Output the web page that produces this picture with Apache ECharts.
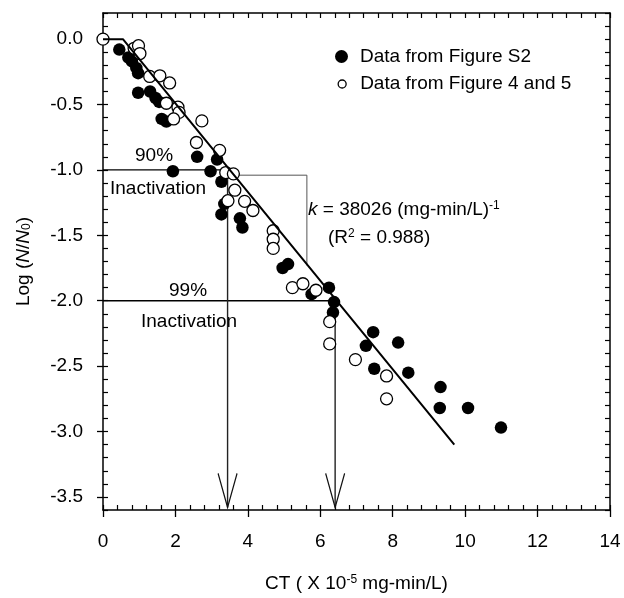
<!DOCTYPE html>
<html>
<head>
<meta charset="utf-8">
<script src="https://cdn.jsdelivr.net/npm/echarts@6/dist/echarts.min.js"></script>
<style>
  html, body { margin: 0; padding: 0; background: #fff; }
  #chart { width: 624px; height: 598px; }
</style>
</head>
<body>
<div id="chart"></div>
<script>
// CT (x 10^-5 mg-min/L), log(N/N0)
const s2Points = [
  [0.45, -0.08], [0.7, -0.14], [0.8, -0.17], [0.92, -0.22], [0.97, -0.26],
  [0.97, -0.41], [1.3, -0.4], [1.45, -0.45], [1.55, -0.48], [1.62, -0.61],
  [1.75, -0.63], [2.6, -0.9], [3.15, -0.92], [1.93, -1.01], [2.97, -1.01],
  [3.27, -1.09], [3.35, -1.26], [3.27, -1.34], [3.78, -1.37], [3.85, -1.44],
  [5.11, -1.72], [4.96, -1.75], [5.76, -1.95], [6.24, -1.9], [6.38, -2.01],
  [6.35, -2.09], [7.46, -2.24], [7.26, -2.345], [8.15, -2.32], [7.49, -2.52],
  [8.43, -2.55], [9.32, -2.66], [9.3, -2.82], [10.08, -2.82], [10.99, -2.97]
];
const fig45Points = [
  [0, 0], [0.86, -0.07], [0.98, -0.05], [1.02, -0.11], [1.29, -0.285],
  [1.57, -0.28], [1.84, -0.335], [1.75, -0.49], [2.07, -0.52], [2.1, -0.56],
  [1.95, -0.61], [2.73, -0.625], [2.58, -0.79], [3.22, -0.85], [3.39, -1.02],
  [3.6, -1.03], [3.64, -1.155], [3.45, -1.235], [3.91, -1.24], [4.14, -1.31],
  [4.7, -1.465], [4.7, -1.53], [4.7, -1.6], [5.23, -1.9], [5.52, -1.87],
  [5.88, -1.92], [6.26, -2.16], [6.26, -2.33], [6.97, -2.45], [7.83, -2.575],
  [7.83, -2.75]
];
const fitLine = [[0, 0], [0.55, 0], [9.7, -3.1]];
const line90 = [[0, -1], [3.44, -1]];
const line99 = [[0, -2], [6.41, -2]];
const slopeMark = [[3.58, -1.04], [5.63, -1.04], [5.63, -1.73]];
const arrow90 = [[3.44, -1], [3.44, -3.58]];
const arrow99 = [[6.41, -2], [6.41, -3.58]];
const yTickValues = [-3.5, -3, -2.5, -2, -1.5, -1, -0.5, 0];

const FONT = '"Liberation Sans", Arial, sans-serif';
const ARROW = 'path://M0,0L9,34L18,0';

function guideLine(data, color, width) {
  return {
    type: 'line', data, symbol: 'none', silent: true, z: 1,
    lineStyle: { color, width }
  };
}

function arrowLine(data) {
  const last = data[data.length - 1];
  return {
    type: 'line', silent: true, z: 1, symbol: 'none',
    lineStyle: { color: '#222', width: 1.4 },
    data: [
      data[0],
      {
        value: last,
        symbol: ARROW,
        symbolSize: [19, 34],
        symbolOffset: [0, '-50%'],
        itemStyle: { color: 'transparent', borderColor: '#111', borderWidth: 1.6 }
      }
    ]
  };
}

const chart = echarts.init(document.getElementById('chart'));

const axisLineStyle = { color: '#000', width: 1.5 };

chart.setOption({
  animation: false,
  textStyle: { fontFamily: FONT },
  grid: { left: 103, right: 14, top: 13, bottom: 83 },
  legend: [
    {
      data: ['Data from Figure S2'],
      orient: 'vertical', left: 330, top: 42,
      itemWidth: 13, itemHeight: 13, icon: 'circle',
      textStyle: { fontSize: 19, color: '#000', fontFamily: FONT, padding: [0, 0, 0, 7] }
    },
    {
      data: [{
        name: 'Data from Figure 4 and 5',
        itemStyle: { color: '#fff', borderColor: '#000', borderWidth: 1.3 }
      }],
      orient: 'vertical', left: 332.5, top: 69.5,
      itemWidth: 8, itemHeight: 8, icon: 'circle',
      textStyle: { fontSize: 19, color: '#000', fontFamily: FONT, padding: [0, 0, 0, 9] }
    }
  ],
  xAxis: [
    {
      type: 'value', min: 0, max: 14, interval: 2, position: 'bottom',
      axisLine: { onZero: false, lineStyle: axisLineStyle },
      axisTick: { length: 7, lineStyle: { color: '#000', width: 1.3 } },
      axisLabel: { fontSize: 19, color: '#000', margin: 22, fontFamily: FONT },
      splitLine: { show: false },
      name: 'CT ( X 10{sup|-5} mg-min/L)',
      nameLocation: 'middle', nameGap: 64,
      nameTextStyle: {
        fontSize: 19, color: '#000', fontFamily: FONT,
        rich: { sup: { fontSize: 12, verticalAlign: 'top', fontFamily: FONT, color: '#000' } }
      }
    },
    {
      type: 'value', min: 0, max: 14, interval: 0.4, position: 'bottom',
      axisLine: { show: false, onZero: false },
      axisTick: { inside: true, length: 5, lineStyle: { color: '#000', width: 1.2 } },
      axisLabel: { show: false }, splitLine: { show: false }
    },
    {
      type: 'value', min: 0, max: 14, interval: 0.4, position: 'top',
      axisLine: { onZero: false, lineStyle: axisLineStyle },
      axisTick: { inside: true, length: 5, lineStyle: { color: '#000', width: 1.2 } },
      axisLabel: { show: false }, splitLine: { show: false }
    }
  ],
  yAxis: [
    {
      type: 'value', min: -3.6, max: 0.2, position: 'left',
      axisLine: { onZero: false, lineStyle: axisLineStyle },
      axisTick: { length: 6, customValues: yTickValues, lineStyle: { color: '#000', width: 1.3 } },
      axisLabel: {
        fontSize: 19, color: '#000', margin: 20, fontFamily: FONT,
        customValues: yTickValues,
        formatter: (v) => v.toFixed(1)
      },
      splitLine: { show: false },
      name: 'Log ({i|N}/{i|N}{sub|0})',
      nameLocation: 'middle', nameGap: 70, nameRotate: 90,
      nameTextStyle: {
        fontSize: 19, color: '#000', fontFamily: FONT,
        rich: {
          i: { fontStyle: 'italic', fontSize: 19, fontFamily: FONT, color: '#000' },
          sub: { fontSize: 12, verticalAlign: 'bottom', fontFamily: FONT, color: '#000' }
        }
      }
    },
    {
      type: 'value', min: -3.6, max: 0.2, interval: 0.1, position: 'left',
      axisLine: { show: false, onZero: false },
      axisTick: { inside: true, length: 5, lineStyle: { color: '#000', width: 1.2 } },
      axisLabel: { show: false }, splitLine: { show: false }
    },
    {
      type: 'value', min: -3.6, max: 0.2, interval: 0.1, position: 'right',
      axisLine: { onZero: false, lineStyle: axisLineStyle },
      axisTick: { inside: true, length: 5, lineStyle: { color: '#000', width: 1.2 } },
      axisLabel: { show: false }, splitLine: { show: false }
    }
  ],
  graphic: [
    { type: 'text', left: 135, top: 146, style: { text: '90%', fontSize: 19, fontFamily: FONT, fill: '#000' } },
    { type: 'text', left: 110, top: 179, style: { text: 'Inactivation', fontSize: 19, fontFamily: FONT, fill: '#000' } },
    { type: 'text', left: 169, top: 281, style: { text: '99%', fontSize: 19, fontFamily: FONT, fill: '#000' } },
    { type: 'text', left: 141, top: 312, style: { text: 'Inactivation', fontSize: 19, fontFamily: FONT, fill: '#000' } },
    {
      type: 'text', left: 308, top: 200,
      style: {
        text: '{i|k} = 38026 (mg-min/L){sup|-1}',
        fontSize: 19, fontFamily: FONT, fill: '#000',
        rich: {
          i: { fontStyle: 'italic', fontSize: 19, fontFamily: FONT, fill: '#000' },
          sup: { fontSize: 12, verticalAlign: 'top', fontFamily: FONT, fill: '#000' }
        }
      }
    },
    {
      type: 'text', left: 328, top: 228,
      style: {
        text: '(R{sup|2} = 0.988)',
        fontSize: 19, fontFamily: FONT, fill: '#000',
        rich: { sup: { fontSize: 12, verticalAlign: 'top', fontFamily: FONT, fill: '#000' } }
      }
    }
  ],
  series: [
    guideLine(line90, '#000', 1.3),
    guideLine(line99, '#000', 1.3),
    guideLine(slopeMark, '#555', 1),
    arrowLine(arrow90),
    arrowLine(arrow99),
    {
      name: 'Data from Figure S2',
      type: 'scatter', data: s2Points, symbol: 'circle', symbolSize: 12.5, z: 3,
      itemStyle: { color: '#000', opacity: 1 }
    },
    {
      name: 'Data from Figure 4 and 5',
      type: 'scatter', data: fig45Points, symbol: 'circle', symbolSize: 12, z: 3,
      itemStyle: { color: '#fff', borderColor: '#000', borderWidth: 1.3, opacity: 1 }
    },
    {
      type: 'line', data: fitLine, symbol: 'none', silent: true, z: 4,
      lineStyle: { color: '#000', width: 2 }
    }
  ]
});
</script>
</body>
</html>
